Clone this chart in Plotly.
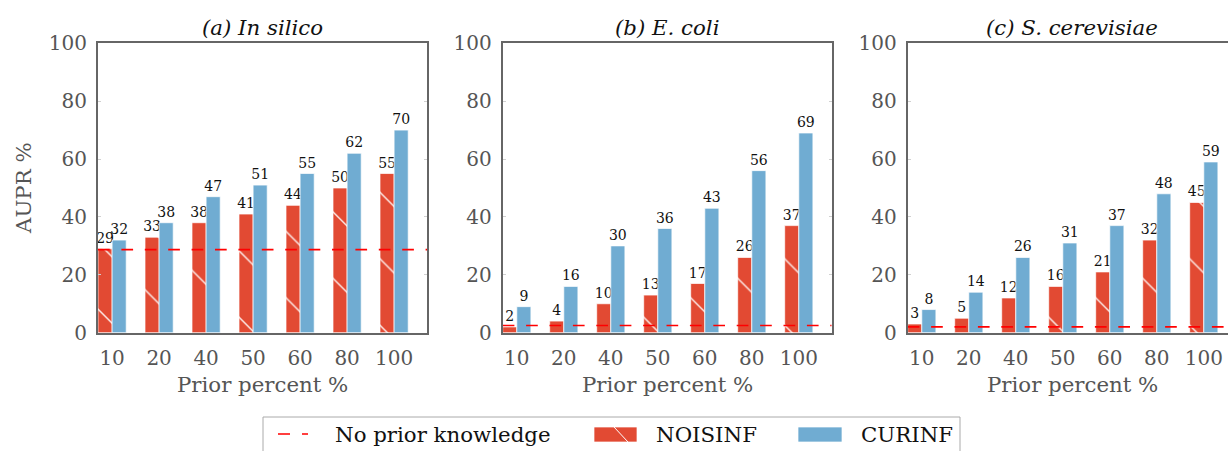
import plotly.graph_objects as go

# ---------------- data ----------------
categories = ["10", "20", "40", "50", "60", "80", "100"]
panel_titles = ["(a) In silico", "(b) E. coli", "(c) S. cerevisiae"]

a_noisinf = [29, 33, 38, 41, 44, 50, 55]
a_curinf = [32, 38, 47, 51, 55, 62, 70]
a_baseline = 28.7

b_noisinf = [2, 4, 10, 13, 17, 26, 37]
b_curinf = [9, 16, 30, 36, 43, 56, 69]
b_baseline = 2.5

c_noisinf = [3, 5, 12, 16, 21, 32, 45]
c_curinf = [8, 14, 26, 31, 37, 48, 59]
c_baseline = 2.0

y_ticks = [0, 20, 40, 60, 80, 100]

# ---------------- style ----------------
W, H = 1228, 451
FONT = "DejaVu Serif"
RED = "#E24A33"
BLUE = "#70ACD2"
GRAY = "#555555"
SPINE = "#666666"
LBL = 21.3

x_pos = list(range(len(categories)))
bar_w = 0.3

plot_top, plot_bottom = 43.3, 332.7
panels_px = [(98.0, 427.0), (502.7, 831.7), (907.7, 1236.7)]


def px_x(p):
    return p / W


def px_y(p):
    return (H - p) / H


fig = go.Figure()

datasets = [
    (a_noisinf, a_curinf, a_baseline),
    (b_noisinf, b_curinf, b_baseline),
    (c_noisinf, c_curinf, c_baseline),
]

for i, (noi, cur, base) in enumerate(datasets):
    xa = "x" if i == 0 else f"x{i+1}"
    ya = "y" if i == 0 else f"y{i+1}"
    fig.add_trace(go.Bar(
        x=x_pos, y=noi, width=bar_w, offset=-bar_w,
        marker=dict(color=RED, line=dict(color="rgba(255,255,255,0.7)", width=1),
                    pattern=dict(shape="\\", size=47, solidity=0.03,
                                 fgcolor="white", bgcolor=RED, fgopacity=0.9)),
        text=[str(v) for v in noi], textposition="outside", constraintext="none",
        cliponaxis=False,
        textfont=dict(family=FONT, size=14, color="#111111"),
        xaxis=xa, yaxis=ya, showlegend=False, name="NOISINF",
    ))
    fig.add_trace(go.Bar(
        x=x_pos, y=cur, width=bar_w, offset=0,
        marker=dict(color=BLUE, line=dict(color="rgba(255,255,255,0.7)", width=1)),
        text=[str(v) for v in cur], textposition="outside", constraintext="none",
        cliponaxis=False,
        textfont=dict(family=FONT, size=14, color="#111111"),
        xaxis=xa, yaxis=ya, showlegend=False, name="CURINF",
    ))
    fig.add_trace(go.Scatter(
        x=[-0.3, len(categories) - 0.3], y=[base, base], mode="lines",
        line=dict(color="#FF0000", width=1.6, dash="11.7px,11.7px"),
        xaxis=xa, yaxis=ya, showlegend=False, name="No prior knowledge",
    ))

ydom = [px_y(plot_bottom), px_y(plot_top)]
layout = dict(
    width=W, height=H, margin=dict(l=0, r=0, t=0, b=0, autoexpand=False),
    paper_bgcolor="white", plot_bgcolor="white", showlegend=False,
    barmode="overlay", font=dict(family=FONT, color=GRAY),
)

for i, (l, r) in enumerate(panels_px):
    sfx = "" if i == 0 else str(i + 1)
    right = min(r, W)
    xmax = -0.3 + (right - l) / ((r - l) / 7.0)
    layout["xaxis" + sfx] = dict(
        domain=[px_x(l), px_x(right)], range=[-0.3, xmax], automargin=False,
        anchor="y" + sfx, tickvals=x_pos, ticktext=categories,
        showline=True, linecolor=SPINE, linewidth=2, mirror=True,
        showgrid=False, zeroline=False, ticks="",
        tickfont=dict(family=FONT, size=20, color=GRAY), ticklabelstandoff=6,
    )
    layout["yaxis" + sfx] = dict(
        domain=ydom, range=[0, 100], anchor="x" + sfx, tickvals=y_ticks,
        automargin=False,
        showline=True, linecolor=SPINE, linewidth=2,
        mirror=("ticks" if i < 2 else False), showgrid=False, zeroline=False,
        ticks="inside", ticklen=3, tickwidth=1, tickcolor="#d0d0d0",
        tickfont=dict(family=FONT, size=20, color=GRAY), ticklabelstandoff=5,
    )

fig.update_layout(**layout)

annotations = []
shapes = []
for i, (l, r) in enumerate(panels_px):
    cx = (l + r) / 2
    annotations.append(dict(
        text=f"<i>{panel_titles[i]}</i>", x=px_x(cx), y=px_y(27.5),
        xref="paper", yref="paper", xanchor="center", yanchor="middle",
        showarrow=False, font=dict(family=FONT, size=LBL, color="#111111"),
    ))
    annotations.append(dict(
        text="Prior percent %", x=px_x(cx), y=px_y(384),
        xref="paper", yref="paper", xanchor="center", yanchor="middle",
        showarrow=False, font=dict(family=FONT, size=LBL, color=GRAY),
    ))

annotations.append(dict(
    text="AUPR %", x=px_x(23), y=px_y(188), xref="paper", yref="paper",
    xanchor="center", yanchor="middle", textangle=-90, showarrow=False,
    font=dict(family=FONT, size=LBL, color=GRAY),
))

# ---------------- manual legend ----------------
shapes.append(dict(type="rect", xref="paper", yref="paper",
                   x0=px_x(263), x1=px_x(960), y0=px_y(470), y1=px_y(417),
                   line=dict(color="#aaaaaa", width=1), fillcolor="white", layer="above"))
shapes.append(dict(type="line", xref="paper", yref="paper",
                   x0=px_x(278), x1=px_x(308), y0=px_y(434), y1=px_y(434),
                   line=dict(color="#FF0000", width=1.5, dash="12px,12px")))
shapes.append(dict(type="rect", xref="paper", yref="paper",
                   x0=px_x(594), x1=px_x(637), y0=px_y(442), y1=px_y(427),
                   line=dict(color="rgba(255,255,255,0.7)", width=1), fillcolor=RED))
shapes.append(dict(type="line", xref="paper", yref="paper",
                   x0=px_x(614), x1=px_x(628), y0=px_y(427), y1=px_y(442),
                   line=dict(color="white", width=1)))
shapes.append(dict(type="rect", xref="paper", yref="paper",
                   x0=px_x(798), x1=px_x(842), y0=px_y(442), y1=px_y(427),
                   line=dict(color="rgba(255,255,255,0.7)", width=1), fillcolor=BLUE))

for txt, xl in [("No prior knowledge", 333), ("NOISINF", 654), ("CURINF", 859)]:
    annotations.append(dict(
        text=txt, x=px_x(xl), y=px_y(434.5), xref="paper", yref="paper",
        xanchor="left", yanchor="middle", showarrow=False,
        font=dict(family=FONT, size=LBL, color="#111111"),
    ))

fig.update_layout(annotations=annotations, shapes=shapes)

fig.write_html("out.html")
